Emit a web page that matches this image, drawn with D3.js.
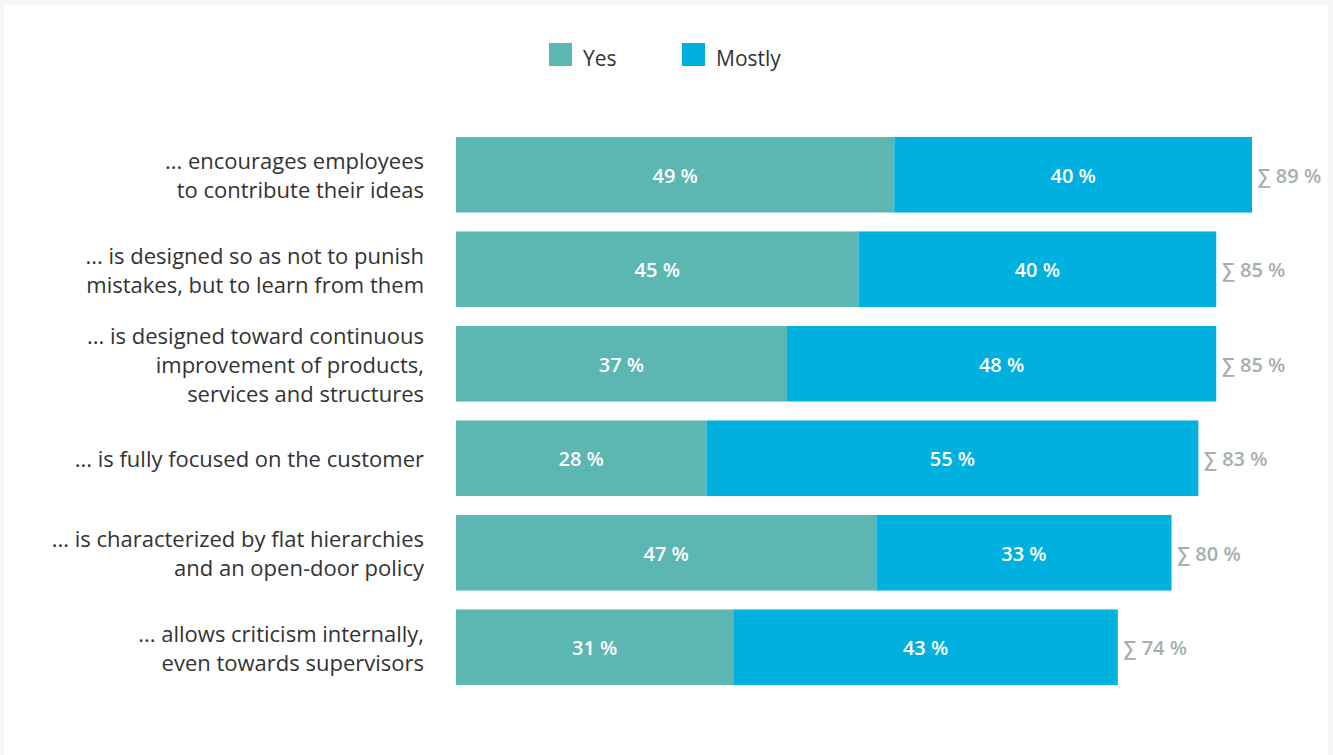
<!DOCTYPE html>
<html>
<head>
<meta charset="utf-8">
<script src="https://cdn.jsdelivr.net/npm/d3@7"></script>
<style>
  html, body { margin: 0; padding: 0; background: #f5f6f8; }
  svg { display: block; }
  text { font-family: "Open Sans", "Noto Sans", sans-serif; }
</style>
</head>
<body>
<svg id="chart" width="1333" height="755"></svg>
<script>
// Survey statements (each split into display lines)
const categories = [
  ["... encourages employees", "to contribute their ideas"],
  ["... is designed so as not to punish", "mistakes, but to learn from them"],
  ["... is designed toward continuous", "improvement of products,", "services and structures"],
  ["... is fully focused on the customer"],
  ["... is characterized by flat hierarchies", "and an open-door policy"],
  ["... allows criticism internally,", "even towards supervisors"]
];
const yesValues = [49, 45, 37, 28, 47, 31];
const mostlyValues = [40, 40, 48, 55, 33, 43];
const seriesNames = ["Yes", "Mostly"];
const seriesColors = ["#5cb7b2", "#00b1e0"];

const svg = d3.select("#chart");

// white panel
svg.append("rect").attr("x", 4).attr("y", 5).attr("width", 1324).attr("height", 760).attr("fill", "#ffffff");

const x = d3.scaleLinear().domain([0, 100]).range([456, 1350.4]);
const y = d3.scaleBand().domain(d3.range(categories.length)).range([127.5, 694.5])
  .paddingInner(0.2).paddingOuter(0.1);

const rows = categories.map((c, i) => ({ i, lines: c, yes: yesValues[i], mostly: mostlyValues[i] }));

const g = svg.append("g");

// Stacked segments
const stack = d3.stack().keys(["yes", "mostly"]);
const layers = stack(rows);
layers.forEach((layer, li) => {
  const lg = g.append("g").attr("fill", seriesColors[li]);
  lg.selectAll("rect").data(layer).join("rect")
    .attr("x", d => x(d[0]))
    .attr("width", d => x(d[1]) - x(d[0]))
    .attr("y", (d, i) => y(i))
    .attr("height", y.bandwidth());
  g.append("g").selectAll("text").data(layer).join("text")
    .attr("x", d => (x(d[0]) + x(d[1])) / 2)
    .attr("y", (d, i) => y(i) + y.bandwidth() / 2 + 1)
    .attr("dy", "0.36em")
    .attr("text-anchor", "middle")
    .attr("fill", "#ffffff")
    .attr("font-size", 20)
    .attr("font-weight", 600)
    .text(d => (d[1] - d[0]) + " %");
});

// Totals
g.append("g").selectAll("text").data(rows).join("text")
  .attr("x", d => x(d.yes + d.mostly) + 6)
  .attr("y", d => y(d.i) + y.bandwidth() / 2 + 1)
  .attr("dy", "0.36em")
  .attr("fill", "#a4afad")
  .attr("font-size", 20)
  .attr("font-weight", 600)
  .text(d => "\u2211 " + (d.yes + d.mostly) + " %");

// Category labels
const lineH = 29;
const labels = g.append("g").selectAll("text").data(rows).join("text")
  .attr("x", 424)
  .attr("text-anchor", "end")
  .attr("fill", "#333333")
  .attr("font-size", 22)
  .attr("y", d => y(d.i) + y.bandwidth() / 2 + 1 - (d.lines.length - 1) * lineH / 2);
labels.each(function(d) {
  const t = d3.select(this);
  d.lines.forEach((ln, k) => {
    t.append("tspan").attr("x", 424).attr("dy", k === 0 ? "0.36em" : lineH).text(ln);
  });
});

// Legend
const legendX = [549, 682];
const lg = svg.append("g");
seriesNames.forEach((n, i) => {
  lg.append("rect").attr("x", legendX[i]).attr("y", 43).attr("width", 23).attr("height", 23).attr("fill", seriesColors[i]);
  lg.append("text").attr("x", legendX[i] + 34).attr("y", 58).attr("dy", "0.36em")
    .attr("font-size", 21).attr("fill", "#333333").text(n);
});
</script>
</body>
</html>
